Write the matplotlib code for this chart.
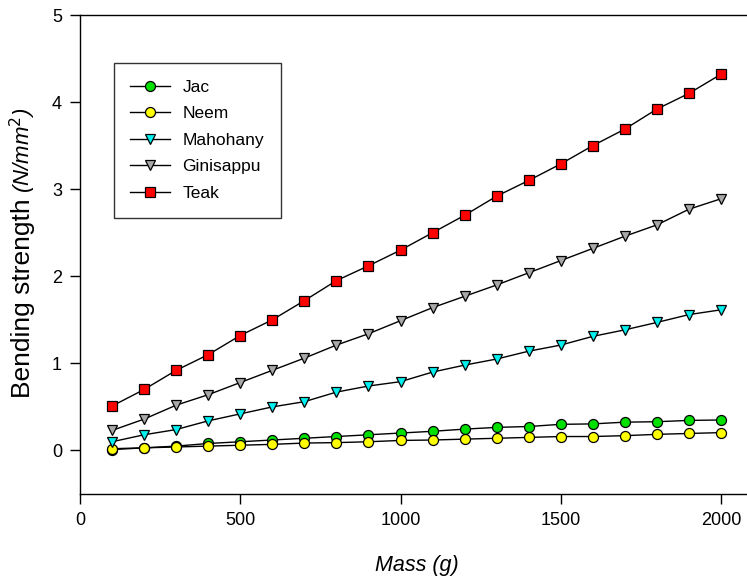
import numpy as np
import matplotlib
matplotlib.use('Agg')
import matplotlib.pyplot as plt

plt.rcParams['font.family'] = ['Liberation Sans', 'DejaVu Sans']

mass = [100, 200, 300, 400, 500, 600, 700, 800, 900, 1000,
        1100, 1200, 1300, 1400, 1500, 1600, 1700, 1800, 1900, 2000]

jac = [0.01, 0.03, 0.05, 0.08, 0.10, 0.12, 0.14, 0.16, 0.18, 0.20,
       0.22, 0.245, 0.265, 0.275, 0.30, 0.305, 0.325, 0.33, 0.345, 0.35]
neem = [0.02, 0.03, 0.04, 0.05, 0.06, 0.07, 0.085, 0.09, 0.10, 0.115,
        0.12, 0.13, 0.14, 0.15, 0.16, 0.16, 0.17, 0.185, 0.195, 0.205]
mahohany = [0.10, 0.18, 0.24, 0.34, 0.42, 0.50, 0.56, 0.67, 0.74, 0.79,
            0.90, 0.98, 1.05, 1.14, 1.21, 1.31, 1.385, 1.47, 1.56, 1.615]
ginisappu = [0.23, 0.36, 0.52, 0.64, 0.78, 0.92, 1.06, 1.21, 1.34, 1.49,
             1.64, 1.77, 1.90, 2.04, 2.18, 2.32, 2.46, 2.59, 2.77, 2.89]
teak = [0.51, 0.70, 0.92, 1.10, 1.32, 1.50, 1.72, 1.95, 2.12, 2.30,
        2.50, 2.70, 2.92, 3.10, 3.29, 3.50, 3.69, 3.92, 4.10, 4.32]

series = [
    ('Jac', jac, 'o', '#00e000'),
    ('Neem', neem, 'o', '#ffff00'),
    ('Mahohany', mahohany, 'v', '#00f0f0'),
    ('Ginisappu', ginisappu, 'v', '#a8a8a8'),
    ('Teak', teak, 's', '#ff0000'),
]

fig = plt.figure(figsize=(7.47, 5.82), dpi=100)
ax = fig.add_axes([0.1071, 0.1512, 0.901, 0.823])

for name, vals, mk, col in series:
    ms = 7.2 if mk != 's' else 7.0
    ax.plot(mass, vals, color='black', lw=1.0, marker=mk, markersize=ms,
            markerfacecolor=col, markeredgecolor='black', markeredgewidth=0.9,
            label=name)

ax.set_xlim(0, 2100)
ax.set_ylim(-0.5, 5)
ax.set_xticks([0, 500, 1000, 1500, 2000])
ax.set_yticks([0, 1, 2, 3, 4, 5])
ax.tick_params(direction='out', length=7, width=1, labelsize=13, pad=6)
for sp in ax.spines.values():
    sp.set_linewidth(1.0)

ax.set_xlabel('Mass (g)', fontsize=15.5, style='italic', labelpad=19)

# y label in two parts: plain text + smaller italic units
ax.text(-0.0743, 0.617, 'Bending strength', transform=ax.transAxes,
        rotation=90, rotation_mode='anchor', ha='right', va='baseline',
        fontsize=19)
ax.text(-0.0743, 0.629, r'(N/mm$^2$)', transform=ax.transAxes,
        rotation=90, rotation_mode='anchor', ha='left', va='baseline',
        fontsize=16, style='italic')

leg = ax.legend(loc='upper left', bbox_to_anchor=(0.0505, 0.8998),
                borderaxespad=0, fontsize=12.5, frameon=True, fancybox=False,
                edgecolor='black', handlelength=2.3, handletextpad=0.7,
                labelspacing=0.66, borderpad=0.95)
leg.get_frame().set_linewidth(1.0)

fig.savefig('out.png', dpi=100)
